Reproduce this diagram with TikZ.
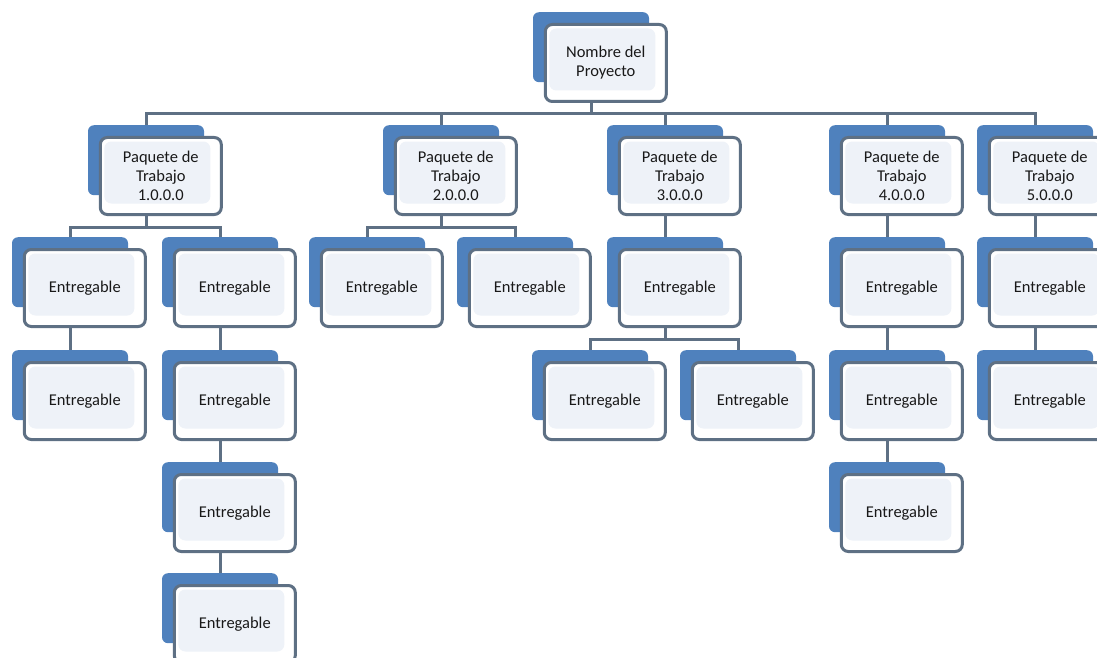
\documentclass[tikz,border=0pt]{standalone}
\usepackage{fontspec}
\setmainfont{Carlito}
\usetikzlibrary{positioning}

\definecolor{azul}{RGB}{79,129,189}
\definecolor{gris}{RGB}{94,112,132}
\definecolor{claro}{RGB}{238,242,248}
\definecolor{texto}{RGB}{25,25,25}

\begin{document}
\begin{tikzpicture}[x=1pt, y=-1pt,
        fondo/.style={anchor=north, fill=azul, rounded corners=6pt, inner sep=0pt,
            minimum width=116pt, minimum height=70pt},
        caja/.style={anchor=north west, draw=gris, line width=3pt, fill=white,
            rounded corners=7pt, inner sep=0pt, minimum width=121pt, minimum height=77pt,
            align=center, text=texto, font=\fontsize{16.5}{19}\selectfont,
            path picture={\fill[claro] ([shift={(4pt,-4pt)}]path picture bounding box.north west)
                rectangle ([shift={(-11pt,11pt)}]path picture bounding box.south east);}},
        conector/.style={draw=gris, line width=3pt}
    ]

    \useasboundingbox (0,0) rectangle (1097,658);

    % cajas: nombre / x del fondo / y del fondo / texto
    \foreach \n/\x/\y/\txt in {
        proy/591/12/{Nombre del\\Proyecto},
        paq1/146/125/{Paquete de\\Trabajo\\1.0.0.0},
        paq2/441/125/{Paquete de\\Trabajo\\2.0.0.0},
        paq3/665/125/{Paquete de\\Trabajo\\3.0.0.0},
        paq4/887/125/{Paquete de\\Trabajo\\4.0.0.0},
        paq5/1035/125/{Paquete de\\Trabajo\\5.0.0.0},
        enta/70/237/Entregable,
        entb/220/237/Entregable,
        entc/367/237/Entregable,
        entd/515/237/Entregable,
        ente/665/237/Entregable,
        entf/887/237/Entregable,
        entg/1035/237/Entregable,
        enth/70/350/Entregable,
        enti/220/350/Entregable,
        entj/590/350/Entregable,
        entk/738/350/Entregable,
        entl/887/350/Entregable,
        entm/1035/350/Entregable,
        entn/220/462/Entregable,
        ento/887/462/Entregable,
        entp/220/573/Entregable}
    {
        \node[fondo] (f\n) at (\x,\y) {};
        \node[caja] (\n) at ([shift={(11pt,-11pt)}]f\n.north west) {\txt};
    }

    % conectores
    \foreach \a/\b in {proy/paq1, proy/paq2, proy/paq3, proy/paq4, proy/paq5,
        paq1/enta, paq1/entb, paq2/entc, paq2/entd, paq3/ente, paq4/entf, paq5/entg,
        enta/enth, entb/enti, ente/entj, ente/entk, entf/entl, entg/entm,
        enti/entn, entl/ento, entn/entp}
    {
        \draw[conector] (f\a |- \a.south) -- ++(0pt,-11pt) -| (f\b.north);
    }

\end{tikzpicture}
\end{document}
